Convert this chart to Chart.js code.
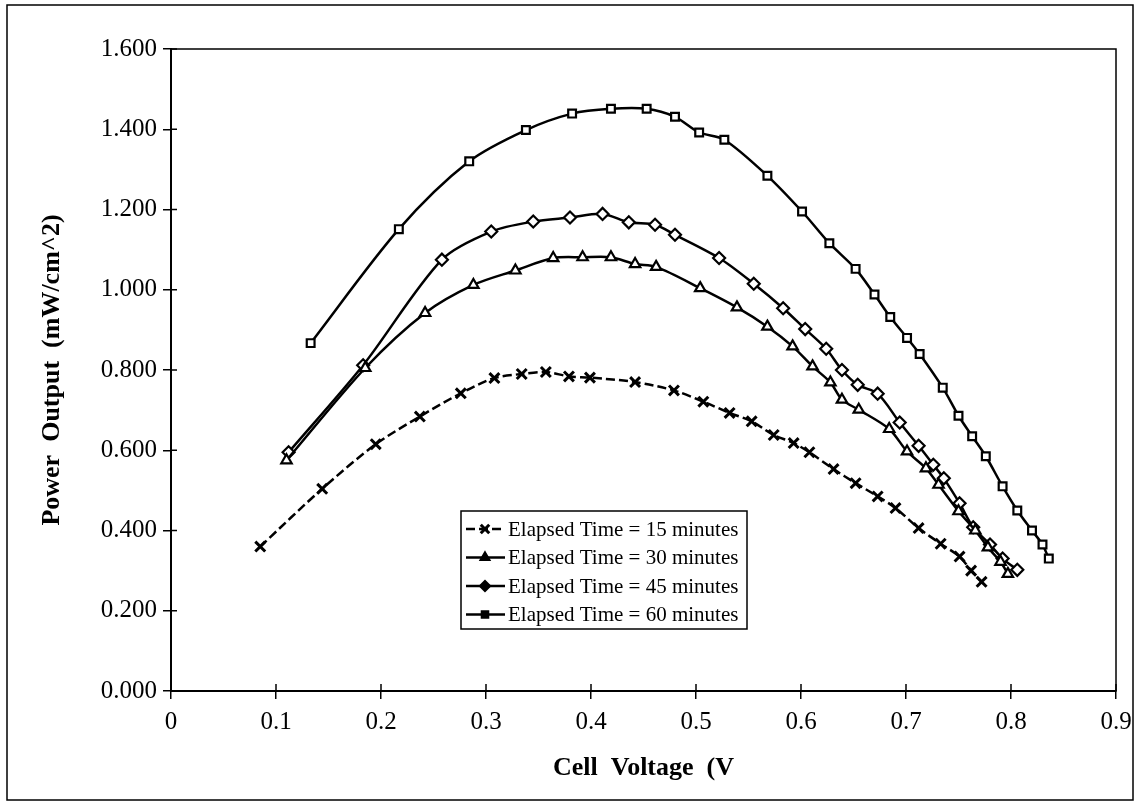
<!DOCTYPE html>
<html>
<head>
<meta charset="utf-8">
<title>Power Output vs Cell Voltage</title>
<script src="https://cdn.jsdelivr.net/npm/chart.js@4.4.1/dist/chart.umd.min.js"></script>
<style>
    html, body { margin: 0; padding: 0; background: #fff; }
    #wrap { width: 1140px; height: 812px; }
</style>
</head>
<body>
<div id="wrap"><canvas id="powerChart" width="1140" height="812"></canvas></div>
<script>
const xTickLabels = ['0', '0.1', '0.2', '0.3', '0.4', '0.5', '0.6', '0.7', '0.8', '0.9'];
const yTickLabels = ['0.000', '0.200', '0.400', '0.600', '0.800', '1.000', '1.200', '1.400', '1.600'];
const seriesNames = ['Elapsed Time = 15 minutes', 'Elapsed Time = 30 minutes',
    'Elapsed Time = 45 minutes', 'Elapsed Time = 60 minutes'];

const volts15 = [0.085, 0.144, 0.195, 0.237, 0.276, 0.308, 0.334, 0.357, 0.379, 0.399, 0.442, 0.479, 0.507, 0.532,
    0.553, 0.574, 0.593, 0.608, 0.631, 0.652, 0.673, 0.690, 0.712, 0.733, 0.751, 0.762, 0.772];
const power15 = [0.360, 0.504, 0.615, 0.684, 0.742, 0.780, 0.790, 0.795, 0.784, 0.781, 0.770, 0.749, 0.721, 0.693,
    0.672, 0.638, 0.618, 0.595, 0.553, 0.518, 0.485, 0.456, 0.406, 0.367, 0.335, 0.300, 0.272];

const volts30 = [0.110, 0.185, 0.242, 0.288, 0.328, 0.364, 0.392, 0.419, 0.442, 0.462, 0.504, 0.539, 0.568, 0.592,
    0.611, 0.628, 0.639, 0.655, 0.684, 0.701, 0.719, 0.731, 0.750, 0.766, 0.778, 0.790, 0.797];
const power30 = [0.575, 0.805, 0.942, 1.012, 1.048, 1.079, 1.081, 1.081, 1.064, 1.057, 1.004, 0.956, 0.908, 0.859,
    0.809, 0.769, 0.726, 0.701, 0.653, 0.597, 0.555, 0.514, 0.448, 0.400, 0.358, 0.322, 0.292];

const volts45 = [0.112, 0.183, 0.258, 0.305, 0.345, 0.380, 0.411, 0.436, 0.461, 0.480, 0.522, 0.555, 0.583, 0.604,
    0.624, 0.639, 0.654, 0.673, 0.694, 0.712, 0.726, 0.736, 0.751, 0.764, 0.780, 0.792, 0.806];
const power45 = [0.595, 0.812, 1.075, 1.145, 1.170, 1.180, 1.189, 1.168, 1.162, 1.137, 1.079, 1.015, 0.954, 0.902,
    0.853, 0.800, 0.763, 0.741, 0.669, 0.611, 0.564, 0.530, 0.468, 0.408, 0.365, 0.330, 0.302];

const volts60 = [0.133, 0.217, 0.284, 0.338, 0.382, 0.419, 0.453, 0.480, 0.503, 0.527, 0.568, 0.601, 0.627, 0.652,
    0.670, 0.685, 0.701, 0.713, 0.735, 0.750, 0.763, 0.776, 0.792, 0.806, 0.820, 0.830, 0.836];
const power60 = [0.867, 1.151, 1.320, 1.398, 1.439, 1.451, 1.451, 1.431, 1.392, 1.374, 1.284, 1.195, 1.116, 1.052,
    0.988, 0.932, 0.880, 0.840, 0.756, 0.686, 0.635, 0.585, 0.510, 0.450, 0.400, 0.365, 0.330];

const serif = '"Liberation Serif", "Times New Roman", serif';

function toPoints(xs, ys) {
    return xs.map((x, i) => ({ x: x, y: ys[i] }));
}

function series(label, xs, ys, style, radius, dash) {
    return {
        label: label,
        data: toPoints(xs, ys),
        showLine: true,
        borderColor: '#000',
        borderWidth: 2.5,
        borderDash: dash || [],
        tension: 0.3,
        pointStyle: style,
        pointRadius: radius,
        pointBorderWidth: style === 'crossRot' ? 3 : 2.2,
        pointBorderColor: '#000',
        pointBackgroundColor: '#fff'
    };
}

// plot area box, inner tick halves and the outer frame
const framePlugin = {
    id: 'frames',
    afterDraw(chart) {
        const { ctx, chartArea: a, scales } = chart;
        ctx.save();
        ctx.strokeStyle = '#000';
        ctx.lineWidth = 1.5;
        ctx.strokeRect(a.left, a.top, a.right - a.left, a.bottom - a.top);
        ctx.beginPath();
        scales.y.ticks.forEach(t => {
            const py = scales.y.getPixelForValue(t.value);
            ctx.moveTo(a.left, py);
            ctx.lineTo(a.left + 6, py);
        });
        scales.x.ticks.forEach(t => {
            const px = scales.x.getPixelForValue(t.value);
            ctx.moveTo(px, a.bottom);
            ctx.lineTo(px, a.bottom - 7);
        });
        ctx.stroke();
        ctx.strokeRect(7, 5, 1126, 795);
        ctx.restore();
    }
};

// boxed legend sitting inside the plot
const legendPlugin = {
    id: 'boxLegend',
    afterDatasetsDraw(chart) {
        const ctx = chart.ctx;
        const box = { left: 461, top: 511, width: 286, height: 118 };
        const rowH = 28.5;
        ctx.save();
        ctx.fillStyle = '#fff';
        ctx.fillRect(box.left, box.top, box.width, box.height);
        ctx.strokeStyle = '#000';
        ctx.lineWidth = 1.5;
        ctx.strokeRect(box.left, box.top, box.width, box.height);
        chart.data.datasets.forEach((ds, i) => {
            const y = box.top + 18 + i * rowH;
            ctx.save();
            ctx.strokeStyle = '#000';
            ctx.lineWidth = 2.5;
            ctx.setLineDash(ds.borderDash);
            ctx.beginPath();
            ctx.moveTo(box.left + 5, y);
            ctx.lineTo(box.left + 44, y);
            ctx.stroke();
            ctx.restore();
            ctx.fillStyle = '#000';
            ctx.strokeStyle = '#000';
            ctx.lineWidth = ds.pointBorderWidth;
            Chart.helpers.drawPoint(ctx, {
                pointStyle: ds.pointStyle,
                radius: ds.pointRadius - 1,
                borderWidth: ds.pointBorderWidth,
                rotation: 0
            }, box.left + 24, y);
            ctx.fillStyle = '#000';
            ctx.font = '21px ' + serif;
            ctx.textAlign = 'left';
            ctx.textBaseline = 'middle';
            ctx.fillText(ds.label, box.left + 47, y + 1);
        });
        ctx.restore();
    }
};

const powerCtx = document.getElementById('powerChart').getContext('2d');
new Chart(powerCtx, {
    type: 'scatter',
    data: {
        datasets: [
            series(seriesNames[0], volts15, power15, 'crossRot', 7, [9, 4]),
            series(seriesNames[1], volts30, power30, 'triangle', 6),
            series(seriesNames[2], volts45, power45, 'rectRot', 6),
            series(seriesNames[3], volts60, power60, 'rect', 5.5)
        ]
    },
    options: {
        responsive: false,
        animation: false,
        devicePixelRatio: 1,
        layout: { padding: { left: 0, right: 24, top: 49, bottom: 0 } },
        plugins: {
            legend: { display: false },
            tooltip: { enabled: false }
        },
        scales: {
            x: {
                type: 'linear',
                min: 0,
                max: 0.9,
                afterFit: s => { s.height = 121; },
                ticks: {
                    stepSize: 0.1,
                    padding: 8,
                    color: '#000',
                    maxRotation: 0,
                    font: { family: serif, size: 25 },
                    callback: (v, i) => xTickLabels[i]
                },
                grid: { drawOnChartArea: false, color: '#000', tickLength: 8, lineWidth: 1.5 },
                border: { color: '#000', width: 2 },
                title: {
                    display: true,
                    text: 'Cell  Voltage  (V',
                    color: '#000',
                    font: { family: serif, size: 26, weight: 'bold' },
                    padding: { top: 0, bottom: 28 }
                }
            },
            y: {
                min: 0,
                max: 1.6,
                afterFit: s => { s.width = 171; },
                ticks: {
                    stepSize: 0.2,
                    padding: 6,
                    color: '#000',
                    font: { family: serif, size: 25 },
                    callback: (v, i) => yTickLabels[i]
                },
                grid: { drawOnChartArea: false, color: '#000', tickLength: 8, lineWidth: 1.5 },
                border: { color: '#000', width: 2 },
                title: {
                    display: true,
                    text: 'Power  Output  (mW/cm^2)',
                    color: '#000',
                    font: { family: serif, size: 26, weight: 'bold' },
                    padding: { top: 37, bottom: 0 }
                }
            }
        }
    },
    plugins: [framePlugin, legendPlugin]
});
</script>
</body>
</html>
